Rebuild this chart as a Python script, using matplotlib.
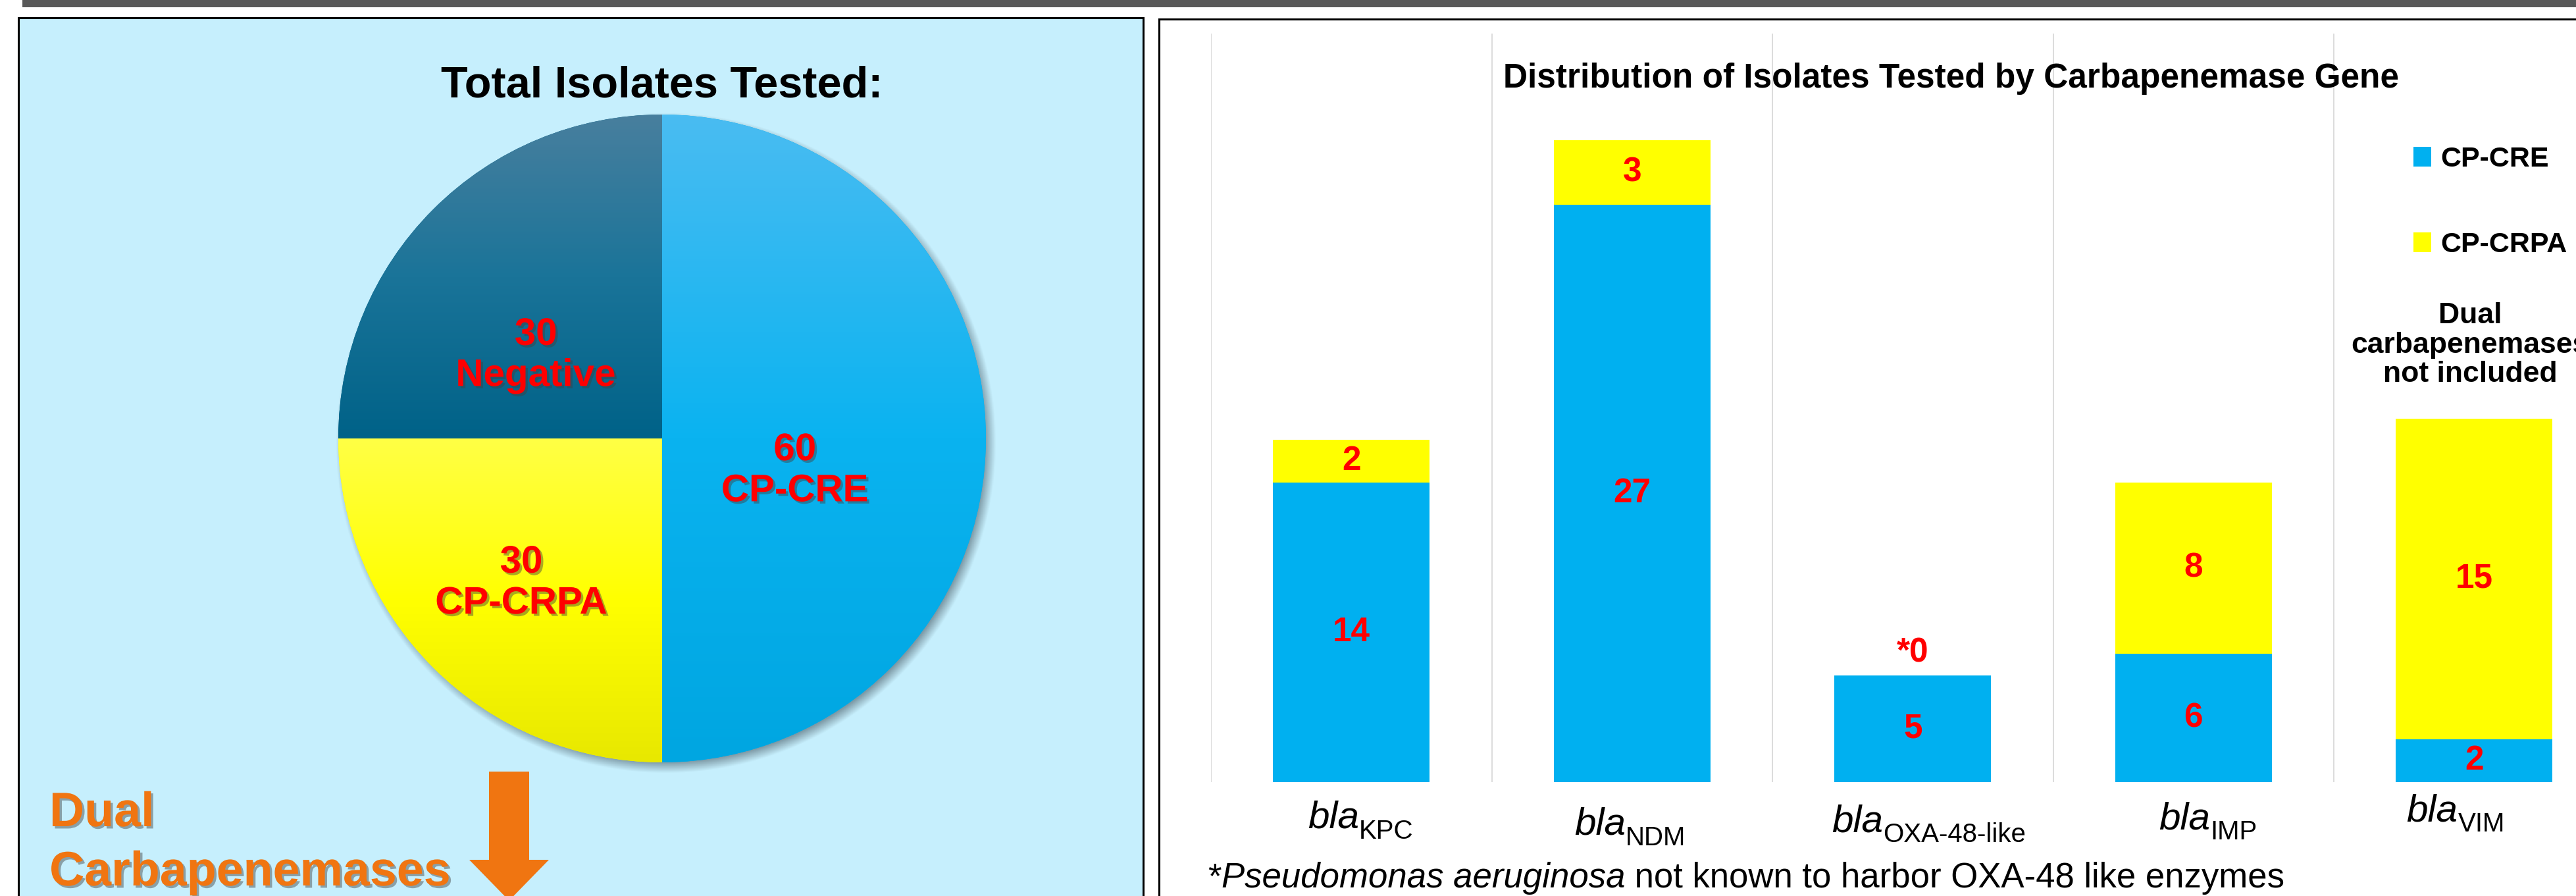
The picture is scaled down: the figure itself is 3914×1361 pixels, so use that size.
import numpy as np
import matplotlib
matplotlib.use('Agg')
import matplotlib.pyplot as plt
from matplotlib.patches import Rectangle, Polygon
from matplotlib.colors import LinearSegmentedColormap
import matplotlib.patheffects as pe

plt.rcParams['font.family'] = ['Liberation Sans', 'DejaVu Sans']

# pie: total isolates tested
pie_labels = ['CP-CRE', 'CP-CRPA', 'Negative']
pie_counts = [60, 30, 30]

# stacked bars: isolates by carbapenemase gene
genes = ['KPC', 'NDM', 'OXA-48-like', 'IMP', 'VIM']
cp_cre = [14, 27, 5, 6, 2]
cp_crpa = [2, 3, 0, 8, 15]

W, H = 3914, 1361
fig = plt.figure(figsize=(W / 100, H / 100), dpi=100)


def fx(x):
    return x / W


def fy(y):
    return 1 - y / H


# page furniture
fig.add_artist(Rectangle((fx(34), fy(11)), 1, 11 / H, transform=fig.transFigure,
                         color='#595959', lw=0, zorder=-2))
fig.add_artist(Rectangle((fx(28), fy(1420)), (1737 - 28) / W, (1420 - 27) / H,
                         transform=fig.transFigure, facecolor='#C6EFFD',
                         edgecolor='black', lw=2.2, zorder=-2))
fig.add_artist(Rectangle((fx(1761), fy(1420)), (4100 - 1761) / W, (1420 - 29) / H,
                         transform=fig.transFigure, facecolor='white',
                         edgecolor='black', lw=2.2, zorder=-2))

shadow = [pe.SimplePatchShadow(offset=(2.5, -2.5), shadow_rgbFace='#404040', alpha=0.45),
          pe.Normal()]

# ---- pie ----
R, cx, cy = 492, 1006, 666
lim = 1.15
side = 2 * lim * R
axp = fig.add_axes([fx(cx - side / 2), fy(cy + side / 2), side / W, side / H])
wedges, _ = axp.pie(pie_counts, startangle=90, counterclock=False,
                    colors=['#00B0F0', '#FFFF00', '#00658C'],
                    wedgeprops=dict(lw=0))
axp.axis('off')
axp.patch.set_visible(False)

# soft drop shadow under the pie
gx, gy = np.meshgrid(np.linspace(-lim, lim, 800), np.linspace(-lim, lim, 800))
d = np.hypot(gx - 0.012, gy + 0.014)
sh = np.zeros(gx.shape + (4,))
sh[..., :3] = (0.30, 0.38, 0.42)
sh[..., 3] = np.clip((1.02 - d) / 0.035, 0, 1) * 0.6
axp.imshow(sh, extent=(-lim, lim, -lim, lim), origin='lower', zorder=0)

grad = {
    'CP-CRE': ['#4ABCF2', '#0AB3F0', '#00A6E1'],
    'CP-CRPA': ['#FFFF45', '#FFFF00', '#E8E800'],
    'Negative': ['#487F9E', '#1A7499', '#006288'],
}
for w, name in zip(wedges, pie_labels):
    th = np.radians(np.linspace(w.theta1, w.theta2, 200))
    ys = np.concatenate([np.sin(th), [0]])
    y0, y1 = ys.min(), ys.max()
    cmap = LinearSegmentedColormap.from_list(name, grad[name][::-1])
    img = np.linspace(0, 1, 256).reshape(-1, 1)
    im = axp.imshow(img, extent=(-1, 1, y0, y1), origin='lower', cmap=cmap,
                    aspect='auto', zorder=2)
    im.set_clip_path(w)
axp.set_xlim(-lim, lim)
axp.set_ylim(-lim, lim)

pie_text_pos = [(0.41, -0.10), (-0.435, -0.447), (-0.39, 0.256)]
for (px, py), n, name in zip(pie_text_pos, pie_counts, pie_labels):
    axp.text(px, py, f'{n}\n{name}', ha='center', va='center', color='#FF0000',
             fontsize=42, fontweight='bold', linespacing=1.2, zorder=5,
             path_effects=shadow)

fig.text(fx(1006), fy(130), 'Total Isolates Tested:', ha='center', va='center',
         fontsize=48, fontweight='bold')

orange = '#F07511'
fig.text(fx(75), fy(1255), 'Dual', ha='left', va='baseline', fontsize=53,
         fontweight='bold', color=orange, path_effects=shadow)
fig.text(fx(75), fy(1345), 'Carbapenemases', ha='left', va='baseline', fontsize=53,
         fontweight='bold', color=orange, path_effects=shadow)
arrow_px = [(743, 1172), (804, 1172), (804, 1306), (834, 1306), (773.5, 1368),
            (713, 1306), (743, 1306)]
fig.add_artist(Polygon([(fx(x), fy(y)) for x, y in arrow_px], closed=True,
                       transform=fig.transFigure, facecolor=orange, lw=0))

# ---- stacked bars ----
axb = fig.add_axes([fx(1840), fy(1188), 2132.5 / W, 1137 / H])
x = np.arange(len(genes))
bw = 0.558
b1 = axb.bar(x, cp_cre, width=bw, color='#00B0F0', label='CP-CRE', zorder=2)
b2 = axb.bar(x, cp_crpa, bottom=cp_cre, width=bw, color='#FFFF00',
             label='CP-CRPA', zorder=2)
axb.set_xlim(-0.5, len(genes) - 0.5)
axb.set_ylim(0, 35)
axb.set_xticks([])
axb.set_yticks([])
axb.set_xticks(np.arange(-0.5, len(genes), 1), minor=True)
axb.grid(which='minor', axis='x', color='#D9D9D9', lw=1.3)
axb.tick_params(which='both', length=0)
axb.set_axisbelow(True)
for s in axb.spines.values():
    s.set_visible(False)
axb.patch.set_visible(False)

lab = dict(color='#FF0000', fontsize=37, fontweight='bold', ha='center', va='center')
for i in range(len(genes)):
    if cp_cre[i]:
        axb.text(x[i], cp_cre[i] / 2, str(cp_cre[i]), **lab)
    if cp_crpa[i]:
        axb.text(x[i], cp_cre[i] + cp_crpa[i] / 2, str(cp_crpa[i]), **lab)
    else:
        axb.annotate(f'*{cp_crpa[i]}', xy=(x[i], cp_cre[i]), xytext=(0, 34),
                     textcoords='offset pixels', **lab)

fig.text(fx(2965), fy(120), 'Distribution of Isolates Tested by Carbapenemase Gene',
         ha='center', va='center', fontsize=37, fontweight='bold')

axb.legend(handles=[b1, b2], loc='center left', bbox_to_anchor=(fx(3667), fy(307)),
           bbox_transform=fig.transFigure, frameon=False,
           prop=dict(size=31, weight='bold'), handlelength=0.63, handleheight=0.70,
           handletextpad=0.33, labelspacing=2.08, borderpad=0, borderaxespad=0)
fig.text(fx(3753), fy(524), 'Dual\ncarbapenemases\nnot included', ha='center',
         va='center', fontsize=32, fontweight='bold', linespacing=1.12)

# gene labels: italic "bla" with a subscript
renderer = fig.canvas.get_renderer()
label_base = [1258, 1268, 1263, 1259, 1247]
label_dx = [14, -3, 24, 22, -28]
for i, g in enumerate(genes):
    dy = -(label_base[i] - 1188)
    t = axb.annotate('bla', xy=(x[i], 0), xycoords=('data', 'axes fraction'),
                     xytext=(0, dy), textcoords='offset pixels', ha='left',
                     va='baseline', fontsize=42, fontstyle='italic',
                     annotation_clip=False)
    s = axb.annotate(g, xy=(1, 0), xycoords=t, xytext=(0, -12),
                     textcoords='offset pixels', ha='left', va='bottom',
                     fontsize=29, annotation_clip=False)
    wsum = t.get_window_extent(renderer).width + s.get_window_extent(renderer).width
    t.xyann = (label_dx[i] - wsum / 2, dy)

# footnote
note = [('*', 'normal'), ('Pseudomonas aeruginosa', 'italic'),
        (' not known to harbor OXA-48 like enzymes', 'normal')]
prev = fig.text(fx(1835), fy(1348), note[0][0], ha='left', va='baseline', fontsize=38)
for txt, style in note[1:]:
    prev = axb.annotate(txt, xy=(1, 0), xycoords=prev, xytext=(0, 0),
                        textcoords='offset pixels', ha='left', va='bottom',
                        fontsize=38, fontstyle=style, annotation_clip=False)

fig.savefig('out.png', dpi=100)
